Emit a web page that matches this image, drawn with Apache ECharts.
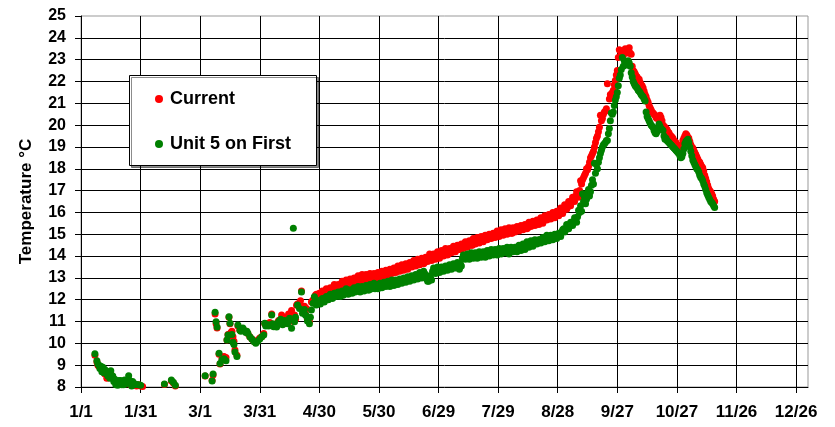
<!DOCTYPE html>
<html>
<head>
<meta charset="utf-8">
<script src="https://cdn.jsdelivr.net/npm/echarts@6/dist/echarts.min.js"></script>
<style>
html,body{margin:0;padding:0;background:#fff;}
#chart{width:835px;height:427px;}
</style>
</head>
<body>
<div id="chart"></div>
<script>
// x = days since 1/1 (leap year), y = temperature in °C
const seriesNames = ['Current', 'Unit 5 on First'];
const yTicks = [8, 25, 1];
const xTickDays = [0, 30, 60, 90, 120, 150, 180, 210, 240, 270, 300, 330, 360];

const currentData = [
  [7,9.45],[8,9.15],[8.5,9.0],[9,8.95],[10,8.9],[11,8.85],[12,8.6],[13,8.4],[14,8.55],[15,8.6],[16,8.45],[17,8.3],[18,8.15],[19,8.25],[20,8.2],[21,8.25],[22,8.3],[23,8.15],[24,8.25],[25,8.1],[26,8.2],[27,8.1],[28,8.05],[29,8.1],[30,8.05],[31,8.02],
  [42,8.12],[45.5,8.28],[46.5,8.18],[47.5,8.05],
  [62.5,8.5],[66,8.3],[66.5,8.55],[67.5,11.35],[68,10.9],[68.5,10.7],[69.5,9.5],[70,9.05],[71,9.3],[72,9.4],[73,9.35],[73.5,10.15],[74,10.4],[74.5,11.2],[75,10.9],[75.5,10.5],[76,10.55],[76.5,10.3],[77,10.1],[77.5,9.7],[78.5,9.45],[79,10.8],[80,10.6],[81,10.65],[82,10.6],[83,10.55],[84,10.45],[85,10.3],[86,10.2],[87,10.1],[88,10.05],[89,10.15],[90,10.25],[91,10.3],[92,10.45],[92.5,10.9],[93,10.85],[94,10.9],[95,10.95],[96,11.35],[97,10.8],[98,10.85],[99,10.95],[100,11.0],[101,11.3],[102,10.9],[103,11.0],[104,11.1],[105,11.2],[106,11.5],[107,11.0],[108,11.1],[109,11.8],[110,11.85],[111,12.4],[112,11.4],[113,11.35],[114,11.1],[115,11.0],[116,11.9],[117,12.0],[118,12.2],[119,12.1],
  [120,12.3],[121,12.25],[122,12.35],[123,12.4],[124,12.45],[125,12.4],[126,12.5],[127,12.55],[128,12.6],[129,12.55],[130,12.65],[131,12.7],[132,12.6],[133,12.75],[134,12.8],[135,12.75],[136,12.85],[137,12.8],[138,12.9],[139,12.95],[140,12.9],[141,13.0],[142,12.95],[143,13.0],[144,13.05],[145,12.95],[146,13.05],[147,13.1],[148,13.0],[149,13.05],
  [150,13.1],[151,13.05],[152,13.15],[153,13.2],[154,13.1],[155,13.2],[156,13.3],[157,13.25],[158,13.35],[159,13.3],[160,13.4],[161,13.35],[162,13.45],[163,13.5],[164,13.45],[165,13.55],[166,13.6],[167,13.55],[168,13.65],[169,13.7],[170,13.6],[171,13.75],[172,13.8],[173,13.7],[174,13.85],[175,13.9],[176,13.95],[177,13.85],[178,13.95],[179,14.05],
  [180,14.0],[181,14.1],[182,14.05],[183,14.2],[184,14.15],[185,14.1],[186,14.25],[187,14.3],[188,14.2],[189,14.35],[190,14.4],[191,14.3],[192,14.45],[193,14.5],[194,14.45],[195,14.55],[196,14.6],[197,14.5],[198,14.65],[199,14.7],[200,14.65],[201,14.75],[202,14.7],[203,14.8],[204,14.85],[205,14.8],[206,14.9],[207,14.85],[208,14.95],[209,15.0],
  [210,14.95],[211,15.05],[212,15.0],[213,15.1],[214,15.05],[215,15.15],[216,15.1],[217,15.05],[218,15.2],[219,15.15],[220,15.25],[221,15.2],[222,15.3],[223,15.25],[224,15.35],[225,15.3],[226,15.4],[227,15.45],[228,15.5],[229,15.45],[230,15.55],[231,15.6],[232,15.55],[233,15.7],[234,15.75],[235,15.7],[236,15.8],[237,15.85],[238,15.8],[239,15.9],
  [240,15.95],[241,16.05],[242,16.0],[243,16.15],[244,16.3],[245,16.25],[246,16.4],[247,16.5],[248,16.6],[249,16.75],[250,16.9],[251,17.0],[251.5,17.45],[252,17.3],[253,17.6],[254,17.8],[255,17.95],[256,18.3],[257,18.6],[258,18.8],[259,19.2],[260,19.5],[261,19.9],[261.5,20.45],[262.5,20.3],[263.5,20.6],[264.5,20.75],[265,21.9],[266,21.2],[267,21.35],[268,21.6],[269,22.05],
  [270,22.5],[270.5,23.1],[271,23.45],[272,23.3],[273,23.2],[274,23.5],[275,23.3],[276,23.55],[277,23.25],[277.5,22.7],[278,22.5],[279,22.35],[280,22.2],[281,22.1],[282,21.85],[283,21.7],[284,21.4],[285,21.15],[286,20.9],[287,20.7],[288,20.55],[289,20.45],[290,20.3],[291,20.4],[292,20.35],[293,20.0],[294,19.9],[295,19.8],[296,19.65],[297,19.5],[298,19.4],[299,19.2],
  [300,19.1],[301,19.0],[302,18.95],[303,19.3],[304,19.5],[305,19.55],[306,19.4],[307,19.1],[308,18.95],[309,18.75],[310,18.55],[311,18.35],[312,18.2],[313,18.05],[314,17.7],[315,17.4],[316,17.1],[317,16.95],[318,16.75],[319,16.5]
];

const currentExtra = [
  [99.5,11.05],[101.5,11.05],[103.5,11.2],[104.5,11.35],[107.5,11.3],[108.5,11.75],[110.5,11.95],[112.5,11.7],[113.5,11.6],[116.5,11.95],[117.5,12.1],[118.5,12.25],[119.5,12.2],
  [120.5,12.15],[121.5,12.4],[122.5,12.2],[123.5,12.5],[124.5,12.3],[125.5,12.55],[126.5,12.4],[127.5,12.7],[128.5,12.45],[129.5,12.7],[130.5,12.55],[131.5,12.85],[132.5,12.6],[133.5,12.9],[134.5,12.7],[135.5,12.95],[136.5,12.75],[137.5,13.0],[138.5,12.8],[139.5,13.1],[140.5,12.85],[141.5,13.15],[142.5,12.9],[143.5,13.15],[144.5,12.95],[145.5,13.2],[146.5,13.0],[147.5,13.2],[148.5,12.95],[149.5,13.25],
  [150.5,13.0],[151.5,13.3],[152.5,13.05],[153.5,13.35],[154.5,13.2],[155.5,13.4],[156.5,13.2],[157.5,13.45],[158.5,13.25],[159.5,13.55],[160.5,13.3],[161.5,13.6],[162.5,13.35],[163.5,13.65],[164.5,13.4],[165.5,13.7],[166.5,13.5],[167.5,13.8],[168.5,13.55],[169.5,13.85],[170.5,13.6],[171.5,13.9],[172.5,13.65],[173.5,13.95],[174.5,13.75],[175.5,14.1],[176.5,13.8],[177.5,14.1],[178.5,13.85],[179.5,14.2],
  [180.5,13.9],[181.5,14.25],[182.5,14.0],[183.5,14.35],[184.5,14.05],[185.5,14.35],[186.5,14.15],[187.5,14.45],[188.5,14.2],[189.5,14.5],[190.5,14.3],[191.5,14.55],[192.5,14.35],[193.5,14.65],[194.5,14.4],[195.5,14.7],[196.5,14.5],[197.5,14.8],[198.5,14.55],[199.5,14.85],[200.5,14.6],[201.5,14.9],[202.5,14.65],[203.5,14.95],[204.5,14.75],[205.5,15.0],[206.5,14.8],[207.5,15.05],[208.5,14.85],[209.5,15.15],
  [210.5,14.9],[211.5,15.2],[212.5,14.95],[213.5,15.25],[214.5,15.0],[215.5,15.3],[216.5,15.05],[217.5,15.3],[218.5,15.1],[219.5,15.35],[220.5,15.15],[221.5,15.4],[222.5,15.2],[223.5,15.45],[224.5,15.25],[225.5,15.55],[226.5,15.35],[227.5,15.6],[228.5,15.4],[229.5,15.65],[230.5,15.45],[231.5,15.75],[232.5,15.5],[233.5,15.85],[234.5,15.65],[235.5,15.9],[236.5,15.7],[237.5,16.0],[238.5,15.75],[239.5,16.05],
  [240.5,15.85],[241.5,16.2],[242.5,15.95],[243.5,16.35],[244.5,16.15],[245.5,16.5],[246.5,16.3],[247.5,16.7],[248.5,16.5],[249.5,16.95],[250.5,16.7],[252.5,17.5],[253.5,17.7],[254.5,18.0],[255.5,18.1],[256.5,18.5],[257.5,18.7],[258.5,19.0],[259.5,19.4],[260.5,19.7],[262,20.2],[263,20.5],[264,20.65],[266.5,21.4],[267.5,21.5],[268.5,21.85],[269.5,22.3],
  [271.5,23.4],[272.5,23.2],[273.5,23.35],[274.5,23.4],[275.5,23.45],[276.5,23.3],[278.5,22.45],[279.5,22.25],[280.5,22.1],[281.5,21.95],[282.5,21.8],[283.5,21.55],[284.5,21.3],[285.5,21.05],[286.5,20.8],[287.5,20.6],[288.5,20.5],[289.5,20.35],[290.5,20.35],[291.5,20.45],[292.5,20.2],[293.5,19.95],[294.5,19.85],[295.5,19.7],[296.5,19.55],[297.5,19.45],[298.5,19.3],[299.5,19.2],
  [300.5,19.05],[301.5,18.95],[302.5,19.1],[303.5,19.4],[304.5,19.6],[305.5,19.45],[306.5,19.25],[307.5,19.0],[308.5,18.85],[309.5,18.65],[310.5,18.45],[311.5,18.3],[312.5,18.1],[313.5,17.9],[314.5,17.55],[315.5,17.25],[316.5,17.0],[317.5,16.85],[318.5,16.6]
];

const unit5Data = [
  [7,9.52],[8,9.2],[8.5,9.05],[9,9.0],[10,8.95],[11,8.9],[12,8.8],[13,8.6],[14,8.7],[15,8.75],[16,8.5],[17,8.35],[18,8.2],[18.5,8.08],[19,8.3],[20,8.3],[21,8.2],[22,8.32],[23,8.2],[24,8.52],[24.5,8.3],[25,8.15],[26,8.25],[27,8.15],[28,8.12],[29,8.1],[30,8.08],
  [42,8.14],[45.5,8.32],[46.5,8.22],[47.5,8.08],
  [62.5,8.52],[66,8.28],[66.5,8.6],[67.5,11.42],[68,10.99],[68.5,10.75],[69.5,9.55],[70,9.08],[71,9.25],[72,9.3],[73,9.2],[73.5,10.15],[74,10.38],[74.5,11.22],[75,10.92],[76,10.4],[76.5,10.05],[77,9.95],[77.5,9.6],[78.5,9.4],[79,10.84],[80,10.6],[81,10.62],[82,10.6],[83,10.5],[84,10.46],[85,10.3],[86,10.2],[87,10.08],[88,10.0],[89,10.1],[90,10.2],[91,10.3],[92,10.38],[92.5,10.92],[93,10.8],[94,10.85],[95,10.84],[96,11.3],[97,10.76],[98,10.8],[99,10.9],[100,10.99],[101,10.95],[102,10.92],[103,11.0],[104,10.9],[105,11.15],[106,10.69],[106.9,15.27],[107.5,10.99],[108,11.2],[109,11.76],[110,11.6],[111,12.35],[111.5,11.38],[112,11.4],[113,11.3],[114,11.02],[115,10.9],[116,11.53],[116.8,11.84],[117.5,12.14],[118.5,11.76],[119,11.85],
  [120,11.95],[121,11.91],[122,12.0],[123,12.06],[124,12.1],[125,12.15],[126,12.22],[127,12.1],[128,12.3],[129,12.2],[130,12.25],[131,12.3],[132,12.2],[133,12.35],[134,12.4],[135,12.3],[136,12.45],[137,12.4],[138,12.35],[139,12.5],[140,12.45],[141,12.4],[142,12.55],[143,12.5],[144,12.6],[145,12.45],[146,12.55],[147,12.65],[148,12.5],[149,12.6],
  [150,12.7],[151,12.6],[152,12.7],[153,12.65],[154,12.75],[155,12.7],[156,12.8],[157,12.75],[158,12.7],[159,12.85],[160,12.8],[161,12.9],[162,12.85],[163,12.95],[164,12.9],[165,13.0],[166,12.95],[167,13.05],[168,13.0],[169,13.1],[170,13.05],[171,13.15],[172,13.1],[173,13.2],[174,12.95],[175,12.85],[176,13.0],[177,13.3],[178,13.25],[179,13.35],
  [180,13.4],[181,13.3],[182,13.45],[183,13.4],[184,13.5],[185,13.45],[186,13.55],[187,13.5],[188,13.6],[189,13.55],[190,13.5],[191,13.65],[192,13.9],[193,14.0],[194,13.95],[195,13.9],[196,14.0],[197,13.95],[198,14.05],[199,14.0],[200,14.0],[201,14.1],[202,14.05],[203,14.0],[204,14.1],[205,14.15],[206,14.05],[207,14.15],[208,14.2],[209,14.1],
  [210,14.25],[211,14.2],[212,14.15],[213,14.3],[214,14.25],[215,14.2],[216,14.3],[217,14.35],[218,14.25],[219,14.3],[220,14.4],[221,14.35],[222,14.45],[223,14.4],[224,14.55],[225,14.5],[226,14.6],[227,14.55],[228,14.65],[229,14.7],[230,14.6],[231,14.75],[232,14.7],[233,14.8],[234,14.85],[235,14.75],[236,14.8],[237,14.9],[238,14.85],[239,14.95],
  [240,14.9],[241,15.0],[242,15.1],[243,15.25],[244,15.2],[245,15.35],[246,15.4],[247,15.5],[248,15.6],[249,15.65],[250,15.8],[250.5,16.1],[251,16.0],[252,16.05],[252.5,16.85],[253,16.5],[254,16.4],[255,16.9],[256,16.75],[257,17.25],[258,17.3],[258.5,18.25],[259,17.8],[260,18.0],[261,18.5],[262,18.85],[263,19.1],[264,19.2],[265,19.3],[266,19.85],[267,20.55],[268,20.6],[269,21.15],
  [270,21.5],[270.5,21.8],[271,22.15],[272,22.55],[272.5,23.1],[273,22.7],[274,22.8],[275,22.9],[276,22.85],[277,22.4],[278,22.0],[279,21.8],[280,21.7],[281,21.55],[282,21.4],[283,21.3],[284,21.1],[285,20.4],[286,20.2],[287,20.0],[288,19.9],[289,19.65],[290,19.7],[291,20.05],[292,19.85],[293,19.75],[294,19.35],[295,19.3],[296,19.2],[297,19.1],[298,19.0],[299,18.9],
  [300,18.8],[301,18.7],[302,18.5],[303,18.7],[304,19.15],[305,19.3],[306,19.2],[307,18.8],[308,18.4],[309,18.2],[310,18.0],[311,17.85],[312,17.6],[313,17.45],[314,17.2],[315,16.9],[316,16.7],[317,16.5],[318,16.4],[319,16.22]
];

const unit5Extra = [
  [9.5,8.85],[10.5,8.7],[11.5,8.65],[13.5,8.5],[14.5,8.4],[16.5,8.25],[17.5,8.1],[19.5,8.2],[20.5,8.1],[21.5,8.1],[22.5,8.15],[25.5,8.05],[26.5,8.1],
  [80.5,10.55],[81.5,10.7],[83.5,10.55],[94.5,10.8],[96.5,10.9],[97.5,10.85],[98.5,10.75],[99.5,11.0],[100.5,11.1],[101.5,10.85],[102.5,11.05],[103.5,10.95],[104.5,11.05],[112.5,11.55],[113.5,11.25],[115.5,11.2],[118,11.9],[119.5,11.95],
  [120.5,11.8],[121.5,12.05],[122.5,11.9],[123.5,12.15],[124.5,12.0],[125.5,12.25],[126.5,12.05],[127.5,12.3],[128.5,12.15],[129.5,12.35],[130.5,12.15],[131.5,12.4],[132.5,12.3],[133.5,12.5],[134.5,12.25],[135.5,12.45],[136.5,12.3],[137.5,12.55],[138.5,12.4],[139.5,12.6],[140.5,12.35],[141.5,12.6],[142.5,12.4],[143.5,12.65],[144.5,12.45],[145.5,12.7],[146.5,12.5],[147.5,12.75],[148.5,12.55],[149.5,12.5],
  [150.5,12.75],[151.5,12.55],[152.5,12.8],[153.5,12.6],[154.5,12.85],[155.5,12.6],[156.5,12.9],[157.5,12.65],[158.5,12.9],[159.5,12.7],[160.5,12.95],[161.5,12.75],[162.5,13.0],[163.5,12.8],[164.5,13.05],[165.5,12.85],[166.5,13.1],[167.5,12.9],[168.5,13.15],[169.5,12.95],[170.5,13.25],[171.5,13.0],[172.5,13.3],[173.5,13.05],[174.5,12.85],[175.5,13.1],[176.5,12.9],[177.5,13.45],[178.5,13.2],[179.5,13.5],
  [180.5,13.25],[181.5,13.5],[182.5,13.3],[183.5,13.55],[184.5,13.35],[185.5,13.6],[186.5,13.4],[187.5,13.65],[188.5,13.45],[189.5,13.7],[190.5,13.4],[191.5,13.55],[192.5,14.05],[193.5,13.85],[194.5,14.1],[195.5,13.85],[196.5,14.15],[197.5,13.9],[198.5,14.15],[199.5,13.9],[200.5,14.2],[201.5,13.95],[202.5,14.2],[203.5,13.95],[204.5,14.25],[205.5,14.0],[206.5,14.3],[207.5,14.05],[208.5,14.3],[209.5,14.05],
  [210.5,14.35],[211.5,14.1],[212.5,14.35],[213.5,14.15],[214.5,14.4],[215.5,14.1],[216.5,14.4],[217.5,14.2],[218.5,14.4],[219.5,14.2],[220.5,14.5],[221.5,14.25],[222.5,14.55],[223.5,14.3],[224.5,14.65],[225.5,14.4],[226.5,14.7],[227.5,14.45],[228.5,14.75],[229.5,14.55],[230.5,14.75],[231.5,14.6],[232.5,14.85],[233.5,14.65],[234.5,14.95],[235.5,14.7],[236.5,14.95],[237.5,14.75],[238.5,15.0],[239.5,14.8],
  [240.5,15.05],[241.5,14.9],[242.5,15.2],[243.5,15.1],[244.5,15.45],[245.5,15.25],[246.5,15.55],[247.5,15.4],[248.5,15.75],[249.5,15.55],[251.5,16.3],[253.5,16.7],[254.5,16.6],[255.5,17.05],[256.5,16.95],[257.5,17.5],[259.5,18.2],[260.5,18.3],[261.5,18.7],[262.5,19.0],[263.5,19.15],[264.5,19.3],[265.5,19.6],[266.5,20.2],[267.5,20.5],[268.5,20.9],[269.5,21.3],
  [271.5,22.3],[273.5,22.95],[274.5,22.75],[275.5,22.95],[276.5,22.7],[277.5,22.2],[278.5,21.9],[279.5,21.75],[280.5,21.6],[281.5,21.5],[282.5,21.35],[283.5,21.2],[284.5,20.6],[285.5,20.3],[286.5,20.1],[287.5,19.95],[288.5,19.75],[289.5,19.6],[290.5,19.85],[291.5,19.95],[292.5,19.8],[293.5,19.5],[294.5,19.4],[295.5,19.25],[296.5,19.15],[297.5,19.05],[298.5,18.95],[299.5,18.85],
  [300.5,18.75],[301.5,18.6],[302.5,18.55],[303.5,18.9],[304.5,19.25],[305.5,19.35],[306.5,19.0],[307.5,18.6],[308.5,18.3],[309.5,18.1],[310.5,17.95],[311.5,17.7],[312.5,17.55],[313.5,17.3],[314.5,17.05],[315.5,16.8],[316.5,16.6],[317.5,16.45],[318.5,16.3]
];

function dayLabel(d) {
  if (xTickDays.indexOf(d) < 0) return '';
  const dt = new Date(Date.UTC(2008, 0, 1) + d * 86400000);
  return (dt.getUTCMonth() + 1) + '/' + dt.getUTCDate();
}

const FONT = '"Liberation Sans", Arial, sans-serif';
const chart = echarts.init(document.getElementById('chart'), null, {renderer: 'canvas'});
chart.setOption({
  animation: false,
  backgroundColor: '#ffffff',
  grid: {left: 81, right: 27, top: 16, bottom: 40, show: true, borderColor: '#999999', borderWidth: 1, backgroundColor: '#ffffff'},
  xAxis: {
    type: 'value', min: 0, max: 366, interval: 30,
    axisLine: {show: true, onZero: false, lineStyle: {color: '#000', width: 1}},
    axisTick: {show: true, inside: false, length: 6, lineStyle: {color: '#000'}},
    axisLabel: {formatter: dayLabel, margin: 17, color: '#000', fontFamily: FONT, fontWeight: 'bold', fontSize: 17, showMaxLabel: false},
    splitLine: {show: true, showMinLine: false, showMaxLine: false, lineStyle: {color: '#000', width: 1}}
  },
  yAxis: {
    type: 'value', min: yTicks[0], max: yTicks[1], interval: yTicks[2],
    name: 'Temperature °C', nameLocation: 'middle', nameGap: 46, nameRotate: 90,
    nameTextStyle: {color: '#000', fontFamily: FONT, fontWeight: 'bold', fontSize: 17},
    axisLine: {show: true, onZero: false, lineStyle: {color: '#000', width: 1}},
    axisTick: {show: true, inside: false, length: 6, lineStyle: {color: '#000'}},
    axisLabel: {margin: 15, color: '#000', fontFamily: FONT, fontWeight: 'bold', fontSize: 16},
    splitLine: {show: true, showMinLine: false, showMaxLine: false, lineStyle: {color: '#000', width: 1}}
  },
  graphic: [{
    type: 'rect', left: 129, top: 75, z: 10,
    shape: {width: 187, height: 90},
    style: {fill: '#ffffff', stroke: '#000000', lineWidth: 1, shadowColor: 'rgba(0,0,0,0.45)', shadowOffsetX: 2, shadowOffsetY: 2, shadowBlur: 0}
  }],
  legend: {
    z: 20, orient: 'vertical', left: 155, top: 89, padding: 0, itemGap: 25,
    icon: 'circle', itemWidth: 8, itemHeight: 8,
    textStyle: {color: '#000', fontFamily: FONT, fontWeight: 'bold', fontSize: 18, lineHeight: 20, padding: [0, 0, 0, 2]},
    data: seriesNames
  },
  series: [
    {name: seriesNames[0], type: 'scatter', data: currentData.concat(currentExtra), symbol: 'circle', symbolSize: 7, itemStyle: {color: '#ff0000', opacity: 1}},
    {name: seriesNames[1], type: 'scatter', data: unit5Data.concat(unit5Extra), symbol: 'circle', symbolSize: 7, itemStyle: {color: '#008000', opacity: 1}}
  ]
});
</script>
</body>
</html>
